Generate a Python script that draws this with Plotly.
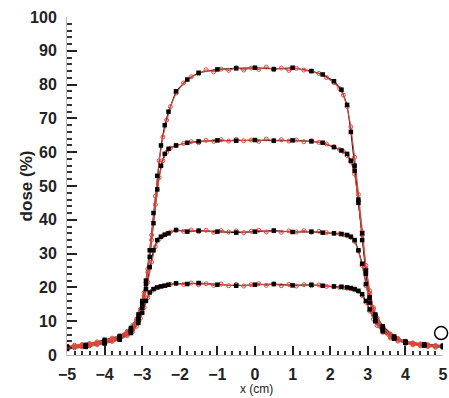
import plotly.graph_objects as go

# measured (black) profiles
x_meas = [-5.0, -4.5, -4.0, -3.6, -3.3, -3.1, -3.0, -2.9, -2.8, -2.7, -2.6, -2.5, -2.4, -2.3,
          -2.1, -1.8, -1.5, -1.0, -0.5, 0.0, 0.5, 1.0, 1.5, 1.8, 2.1, 2.3, 2.45, 2.55, 2.65,
          2.75, 2.85, 2.95, 3.05, 3.2, 3.4, 3.7, 4.0, 4.5, 5.0]
meas_84 = [2.5, 3.0, 4.5, 5.5, 8.0, 12.0, 16.0, 22.0, 31.0, 42.0, 53.0, 62.0, 68.0, 72.0,
           78.0, 81.5, 83.5, 84.5, 84.8, 85.0, 84.6, 85.0, 84.0, 83.0, 81.0, 78.5, 74.0, 66.0, 56.0,
           45.0, 34.0, 24.0, 17.0, 12.0, 8.5, 5.5, 4.0, 3.2, 2.8]
meas_63 = [2.3, 2.8, 4.0, 5.2, 7.5, 11.0, 15.0, 21.0, 29.0, 39.0, 49.0, 56.0, 59.5, 61.0,
           62.0, 62.8, 63.2, 63.5, 63.4, 63.6, 63.4, 63.5, 63.2, 62.8, 61.5, 60.5, 59.5, 57.5, 54.5,
           46.0, 36.0, 25.0, 17.0, 11.5, 8.0, 5.2, 3.8, 3.0, 2.6]
meas_36 = [2.0, 2.6, 3.6, 4.8, 7.0, 10.5, 14.0, 19.5, 26.0, 31.0, 34.0, 35.0, 35.6, 36.0,
           37.0, 36.5, 36.8, 36.5, 36.2, 36.5, 36.8, 36.4, 36.5, 36.2, 36.0, 35.8, 35.5, 35.0, 34.0,
           31.0, 27.0, 21.0, 15.5, 10.5, 7.5, 5.0, 3.7, 2.9, 2.5]
meas_20 = [1.8, 2.4, 3.4, 4.5, 6.5, 9.5, 12.5, 16.0, 18.5, 19.5, 20.0, 20.3, 20.5, 20.8,
           21.2, 21.0, 21.3, 20.8, 20.5, 20.8, 21.0, 20.6, 20.8, 20.5, 20.3, 20.2, 20.0, 19.8, 19.5,
           19.0, 18.0, 16.0, 13.5, 10.0, 7.0, 4.8, 3.6, 2.8, 2.4]

# calculated (red) profiles
x_calc = [-5.0, -4.8, -4.6, -4.4, -4.2, -4.0, -3.8, -3.6, -3.4,
          -3.25, -3.15, -3.05, -2.95, -2.85, -2.75, -2.65, -2.55, -2.45, -2.35, -2.25,
          -2.1, -1.9, -1.7, -1.5, -1.3, -1.1, -0.9, -0.7, -0.5, -0.3, -0.1,
          0.1, 0.3, 0.5, 0.7, 0.9, 1.1, 1.3, 1.5, 1.7, 1.9,
          2.1, 2.25, 2.35, 2.45, 2.55, 2.65, 2.75, 2.85, 2.95, 3.05, 3.15, 3.25,
          3.4, 3.6, 3.8, 4.0, 4.2, 4.4, 4.6, 4.8, 5.0]
calc_84 = [2.6, 2.9, 3.1, 3.4, 3.9, 4.3, 5.0, 5.8, 7.0,
           8.8, 10.6, 13.5, 18.5, 25.5, 35.5, 47.0, 57.5, 64.5, 69.5, 73.5,
           77.5, 80.5, 82.3, 83.2, 84.4, 83.8, 84.6, 84.2, 85.0, 84.3, 84.9,
           84.5, 85.2, 84.4, 84.9, 84.2, 84.8, 84.3, 84.0, 83.3, 82.1,
           80.6, 78.8, 76.9, 73.5, 67.5, 58.5, 47.5, 36.5, 26.5, 19.0, 14.0, 11.0,
           8.3, 6.2, 4.9, 4.1, 3.6, 3.3, 3.0, 2.8, 2.6]
calc_63 = [2.4, 2.6, 2.9, 3.2, 3.6, 4.0, 4.7, 5.4, 6.6,
           8.2, 10.0, 12.8, 17.5, 24.5, 34.0, 44.5, 52.5, 57.5, 60.0, 61.2,
           62.0, 62.6, 63.1, 62.8, 63.5, 63.2, 63.7, 63.3, 63.8, 63.4, 63.6,
           63.2, 63.9, 63.4, 63.7, 63.3, 63.6, 63.1, 63.4, 62.9, 62.4,
           61.6, 60.8, 60.2, 59.0, 57.2, 53.5, 45.5, 35.5, 25.5, 18.2, 13.5, 10.5,
           7.9, 5.9, 4.7, 3.9, 3.4, 3.1, 2.9, 2.7, 2.5]
calc_36 = [2.1, 2.3, 2.6, 2.9, 3.3, 3.7, 4.3, 5.0, 6.1,
           7.6, 9.3, 12.0, 16.2, 21.5, 27.5, 32.0, 34.3, 35.3, 35.9, 36.4,
           36.9, 36.6, 37.0, 36.5, 36.9, 36.3, 36.8, 36.4, 36.7, 36.2, 36.6,
           36.9, 36.4, 36.8, 36.3, 36.7, 36.4, 36.8, 36.3, 36.6, 36.2,
           36.0, 35.9, 35.6, 35.4, 34.8, 33.6, 30.8, 26.5, 20.5, 15.5, 11.8, 9.4,
           7.2, 5.4, 4.4, 3.7, 3.2, 2.9, 2.7, 2.5, 2.3]
calc_20 = [1.9, 2.1, 2.4, 2.7, 3.0, 3.4, 4.0, 4.6, 5.7,
           7.0, 8.5, 10.8, 14.0, 17.0, 18.9, 19.7, 20.1, 20.4, 20.6, 20.9,
           21.2, 20.9, 21.3, 20.8, 21.1, 20.6, 21.0, 20.5, 20.9, 20.4, 20.8,
           21.1, 20.6, 21.0, 20.5, 20.9, 20.4, 20.8, 20.5, 20.7, 20.3,
           20.2, 20.0, 19.9, 19.8, 19.6, 19.3, 18.8, 17.6, 15.6, 13.0, 10.6, 8.7,
           6.7, 5.0, 4.1, 3.4, 3.0, 2.7, 2.5, 2.3, 2.2]

ref_x = [4.95]
ref_y = [6.5]

RED = "#de4a40"
fig = go.Figure()
for ym in [meas_84, meas_63, meas_36, meas_20]:
    fig.add_trace(go.Scatter(x=x_meas, y=ym, mode="lines",
                             line=dict(color="#111", width=1.1),
                             showlegend=False))
for yc in [calc_84, calc_63, calc_36, calc_20]:
    fig.add_trace(go.Scatter(x=x_calc, y=yc, mode="lines+markers",
                             line=dict(color=RED, width=1.1),
                             marker=dict(symbol="circle-open", size=4, color=RED, line=dict(width=1)),
                             showlegend=False))
for ym in [meas_84, meas_63, meas_36, meas_20]:
    fig.add_trace(go.Scatter(x=x_meas, y=ym, mode="markers",
                             marker=dict(symbol="square", size=4.5, color="black"),
                             showlegend=False))
fig.add_trace(go.Scatter(x=ref_x, y=ref_y, mode="markers", cliponaxis=False,
                         marker=dict(symbol="circle-open", size=13, color="black", line=dict(width=1.5)),
                         showlegend=False))

tickfont = dict(family="Liberation Sans, Arial, sans-serif", size=16, color="#222", weight="bold")
fig.update_layout(
    width=449, height=398,
    margin=dict(l=67, r=6, t=17, b=43),
    paper_bgcolor="white", plot_bgcolor="white",
    xaxis=dict(range=[-5, 5], tickmode="linear", tick0=-5, dtick=1, ticks="inside", ticklen=9,
               tickwidth=2, tickcolor="#222", showgrid=False, zeroline=False, automargin=False,
               showline=True, linecolor="#bbb", linewidth=1, ticklabelstandoff=5,
               minor=dict(ticks="inside", ticklen=4, dtick=0.2, tickcolor="#333", tickwidth=1.5),
               tickfont=tickfont),
    yaxis=dict(range=[0, 100], tickmode="linear", tick0=0, dtick=10, ticks="inside", ticklen=10,
               tickwidth=2, tickcolor="#222", showgrid=False, zeroline=False, automargin=False,
               showline=True, linecolor="#bbb", linewidth=1, ticklabelstandoff=6,
               minor=dict(ticks="inside", ticklen=5, dtick=2, tickcolor="#333", tickwidth=1.5),
               tickfont=tickfont),
    annotations=[
        dict(text="dose (%)", xref="paper", yref="paper", x=-0.108, y=0.5, textangle=-90,
             showarrow=False, xanchor="center", yanchor="middle",
             font=dict(family="Liberation Sans, Arial, sans-serif", size=17, color="#222", weight="bold")),
        dict(text="x (cm)", xref="paper", yref="paper", x=0.505, y=-0.1,
             showarrow=False, xanchor="center", yanchor="middle",
             font=dict(family="Liberation Sans, Arial, sans-serif", size=12, color="#222")),
    ],
)
fig.write_html("out.html", config={"displayModeBar": False},
               post_script="document.body.style.margin='0';document.body.style.overflow='hidden';")
